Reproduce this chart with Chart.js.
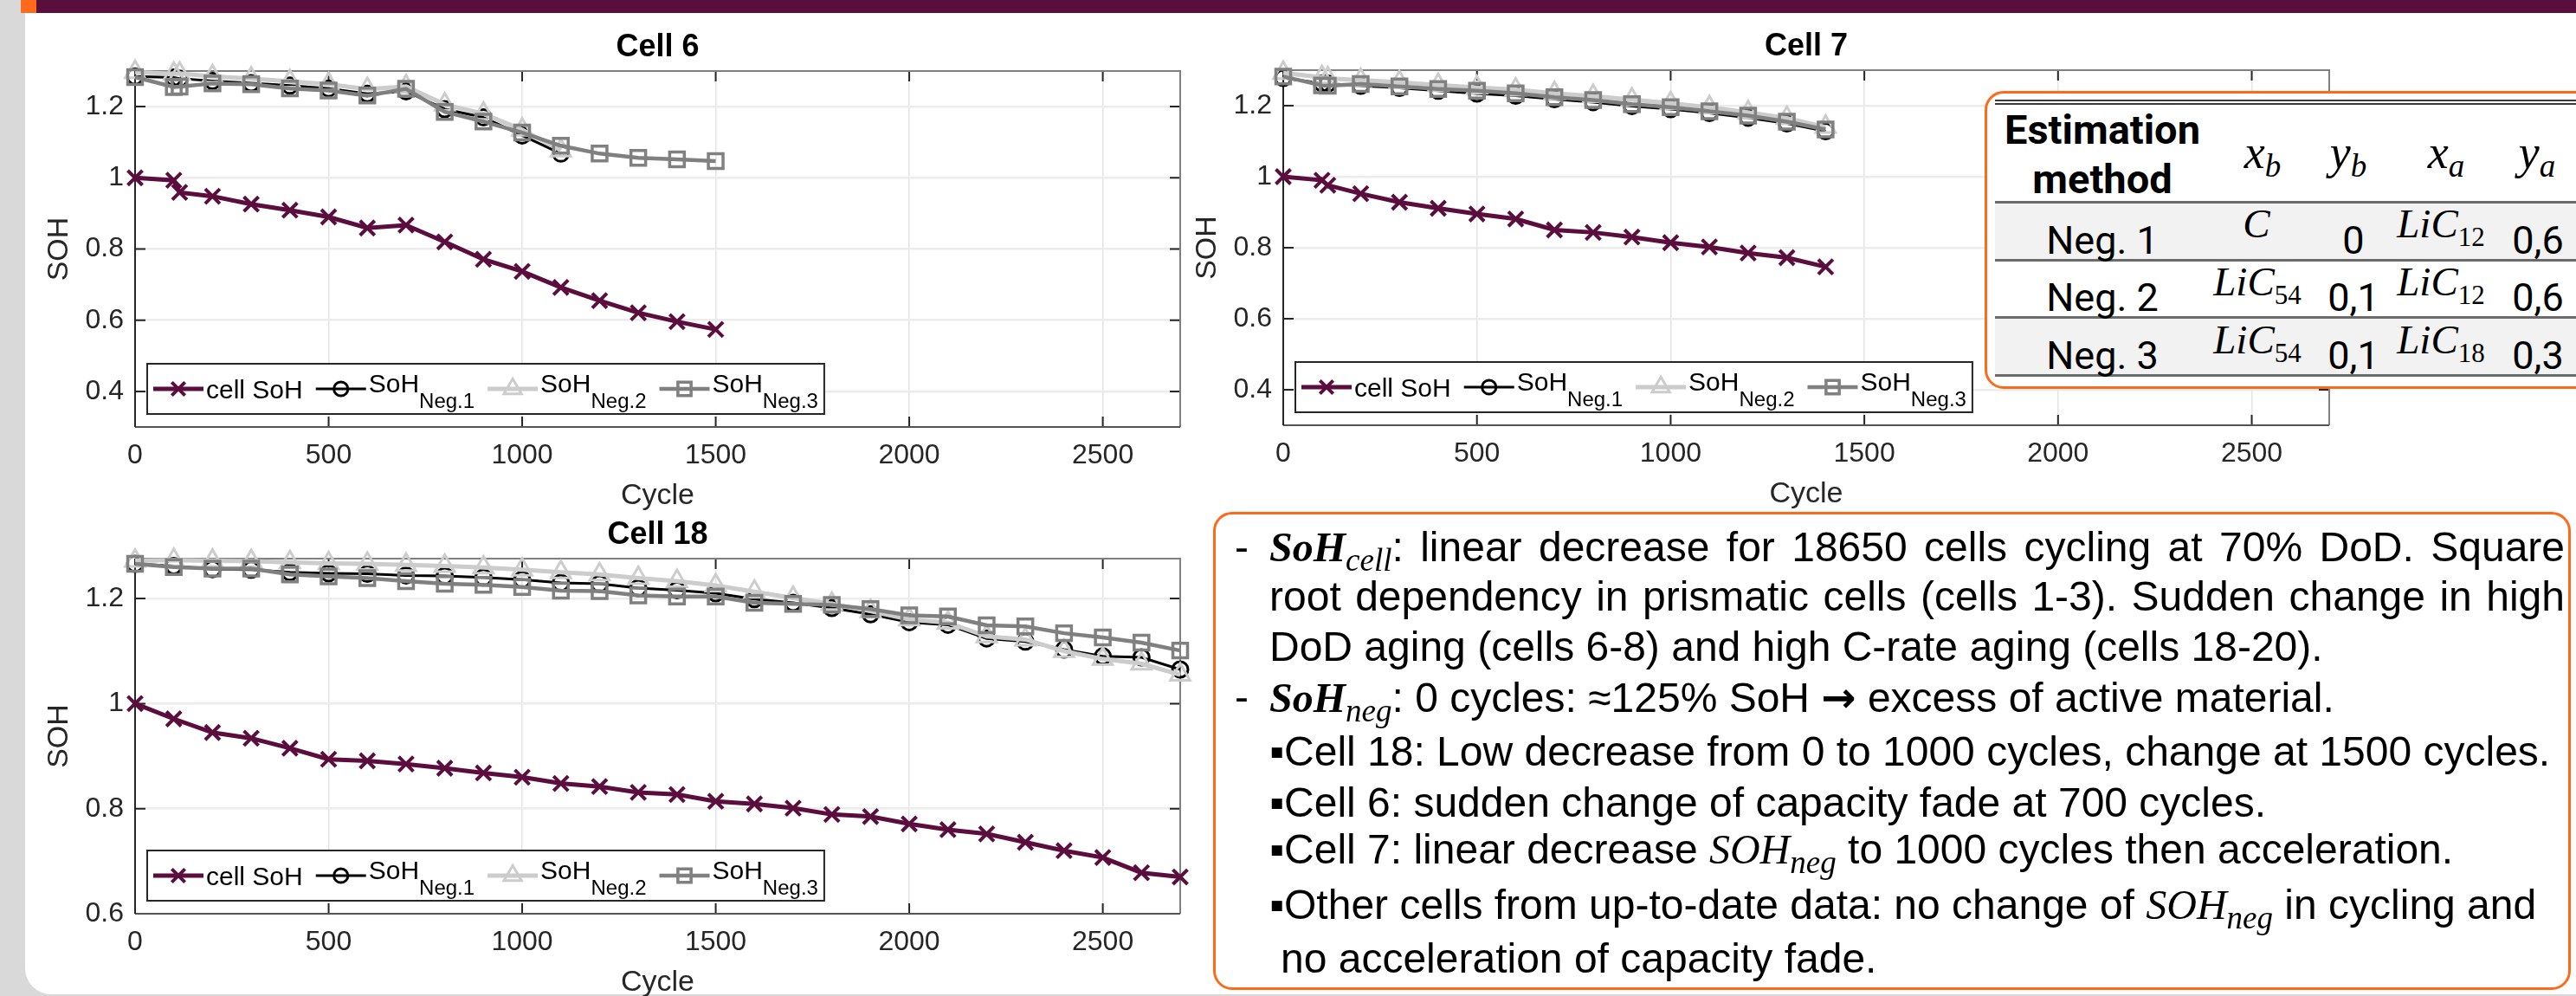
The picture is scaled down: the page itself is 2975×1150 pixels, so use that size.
<!DOCTYPE html>
<html>
<head>
<meta charset="utf-8">
<script src="https://cdn.jsdelivr.net/npm/chart.js"></script>
<style>
html,body{margin:0;padding:0;width:2975px;height:1150px;overflow:hidden;background:#d9d9d9;}
#panel{position:absolute;left:29px;top:0;width:2980px;height:1148px;background:#fff;border-bottom-left-radius:30px;}
#bar{position:absolute;left:24px;top:0;width:2960px;height:15px;background:#5a0e3c;}
#sq{position:absolute;left:24px;top:0;width:18px;height:15px;background:#fe6a1b;}
canvas{position:absolute;}
.box{position:absolute;border:3px solid #fe6a1b;border-radius:22px;background:#fff;box-sizing:border-box;}
.hl{position:absolute;left:2304px;width:700px;}
.t{position:absolute;transform:translate(-50%,-50%);line-height:1;white-space:nowrap;color:#000;}
.r{font-family:Roboto,"Liberation Sans",sans-serif;font-size:45px;}
.rb{font-family:Roboto,"Liberation Sans",sans-serif;font-size:47px;font-weight:bold;}
.m{font-family:"Liberation Serif","DejaVu Serif",serif;font-style:italic;font-size:47px;}
.mh{font-size:54px;}
.m .s{font-size:31px;font-style:normal;position:relative;top:10px;}
.m .si{font-size:37px;position:relative;top:10px;}
.ln{position:absolute;font-family:"Liberation Sans",Arial,sans-serif;font-size:48px;line-height:1;white-space:nowrap;color:#000;}
.just{width:1496px;text-align:justify;text-align-last:justify;}
.mb{font-family:"Liberation Serif","DejaVu Serif",serif;font-style:italic;font-weight:bold;}
.mi{font-family:"Liberation Serif","DejaVu Serif",serif;font-style:italic;}
.sub{font-size:37px;font-weight:normal;position:relative;top:11px;}
.arr{font-family:"DejaVu Sans",sans-serif;font-weight:bold;}
</style>
</head>
<body>
<div id="panel"></div>
<div id="bar"></div>
<div id="sq"></div>
<canvas id="c6"></canvas>
<canvas id="c7"></canvas>
<canvas id="c18"></canvas>

<!-- table box -->
<div class="box" style="left:2292px;top:105px;width:740px;height:344px;"></div>
<div class="hl" style="top:115px;height:2px;background:#3a3a3a;"></div>
<div class="hl" style="top:119px;height:2px;background:#3a3a3a;"></div>
<div class="hl" style="top:233px;height:67px;background:#f2f2f2;"></div>
<div class="hl" style="top:367px;height:66px;background:#f2f2f2;"></div>
<div class="hl" style="top:232px;height:3px;background:#6b6b6b;"></div>
<div class="hl" style="top:299px;height:3px;background:#6b6b6b;"></div>
<div class="hl" style="top:365px;height:3px;background:#6b6b6b;"></div>
<div class="hl" style="top:432px;height:3px;background:#6b6b6b;"></div>
<div class="t rb" style="left:2428px;top:149px;">Estimation</div>
<div class="t rb" style="left:2428px;top:206px;">method</div>
<div class="t m mh" style="left:2613px;top:176px;">x<span class="si">b</span></div>
<div class="t m mh" style="left:2712px;top:176px;">y<span class="si">b</span></div>
<div class="t m mh" style="left:2825px;top:176px;">x<span class="si">a</span></div>
<div class="t m mh" style="left:2930px;top:176px;">y<span class="si">a</span></div>
<div class="t r" style="left:2428px;top:277px;">Neg. 1</div>
<div class="t m" style="left:2606px;top:258px;">C</div>
<div class="t r" style="left:2718px;top:277px;">0</div>
<div class="t m" style="left:2819px;top:258px;">LiC<span class="s">12</span></div>
<div class="t r" style="left:2931px;top:277px;">0,6</div>
<div class="t r" style="left:2428px;top:343px;">Neg. 2</div>
<div class="t m" style="left:2607px;top:325px;">LiC<span class="s">54</span></div>
<div class="t r" style="left:2718px;top:343px;">0,1</div>
<div class="t m" style="left:2819px;top:325px;">LiC<span class="s">12</span></div>
<div class="t r" style="left:2931px;top:343px;">0,6</div>
<div class="t r" style="left:2428px;top:410px;">Neg. 3</div>
<div class="t m" style="left:2607px;top:392px;">LiC<span class="s">54</span></div>
<div class="t r" style="left:2718px;top:410px;">0,1</div>
<div class="t m" style="left:2819px;top:392px;">LiC<span class="s">18</span></div>
<div class="t r" style="left:2931px;top:410px;">0,3</div>

<!-- notes box -->
<div class="box" style="left:1401px;top:591px;width:1568px;height:552px;"></div>
<div class="ln" style="left:1426px;top:608px;">-</div>
<div class="ln just" style="left:1466px;top:608px;"><span class="mb">SoH<span class="sub mi">cell</span></span>: linear decrease for 18650 cells cycling at 70% DoD. Square</div>
<div class="ln just" style="left:1466px;top:665px;">root dependency in prismatic cells (cells 1-3). Sudden change in high</div>
<div class="ln" style="left:1466px;top:723px;">DoD aging (cells 6-8) and high C-rate aging (cells 18-20).</div>
<div class="ln" style="left:1426px;top:781px;">-</div>
<div class="ln" style="left:1466px;top:781px;"><span class="mb">SoH<span class="sub mi">neg</span></span>: 0 cycles: ≈125% SoH <span class="arr">→</span> excess of active material.</div>
<div class="ln" style="left:1466px;top:844px;">▪Cell 18: Low decrease from 0 to 1000 cycles, change at 1500 cycles.</div>
<div class="ln" style="left:1466px;top:903px;">▪Cell 6: sudden change of capacity fade at 700 cycles.</div>
<div class="ln" style="left:1466px;top:957px;">▪Cell 7: linear decrease <span class="mi">SOH<span class="sub">neg</span></span> to 1000 cycles then acceleration.</div>
<div class="ln" style="left:1466px;top:1021px;">▪Other cells from up-to-date data: no change of <span class="mi">SOH<span class="sub">neg</span></span> in cycling and</div>
<div class="ln" style="left:1479px;top:1083px;">no acceleration of capacity fade.</div>

<script>
// ---------------- DATA ----------------
const cell6Cycles = [0,100,115,200,300,400,500,600,700,800,900,1000,1100,1200,1300,1400,1500];
const cell6SoH  = [1.000,0.993,0.959,0.948,0.926,0.909,0.890,0.859,0.867,0.820,0.771,0.737,0.692,0.655,0.621,0.596,0.574];
const cell6Neg1 = [1.285,1.282,1.279,1.272,1.266,1.259,1.251,1.236,1.243,1.193,1.170,1.119,1.068];
const cell6Neg2 = [1.297,1.292,1.293,1.285,1.279,1.271,1.263,1.249,1.257,1.206,1.180,1.135,1.077];
const cell6Neg3 = [1.283,1.255,1.256,1.265,1.263,1.251,1.245,1.231,1.250,1.185,1.158,1.127,1.090,1.068,1.056,1.052,1.047];

const cell7Cycles = [0,100,115,200,300,400,500,600,700,800,900,1000,1100,1200,1300,1400];
const cell7SoH  = [1.000,0.990,0.976,0.952,0.928,0.911,0.895,0.881,0.850,0.843,0.830,0.814,0.802,0.785,0.772,0.746];
const cell7Neg1 = [1.278,1.263,1.262,1.256,1.250,1.242,1.234,1.228,1.218,1.210,1.199,1.190,1.179,1.166,1.150,1.128];
const cell7Neg2 = [1.292,1.280,1.277,1.272,1.266,1.258,1.251,1.245,1.235,1.227,1.217,1.207,1.195,1.181,1.165,1.140];
const cell7Neg3 = [1.282,1.257,1.256,1.261,1.254,1.247,1.242,1.235,1.224,1.216,1.204,1.196,1.184,1.172,1.155,1.133];

const cell18Cycles = [0,100,200,300,400,500,600,700,800,900,1000,1100,1200,1300,1400,1500,1600,1700,1800,1900,2000,2100,2200,2300,2400,2500,2600,2700];
const cell18SoH  = [1.000,0.971,0.945,0.934,0.915,0.894,0.891,0.885,0.877,0.868,0.860,0.848,0.842,0.831,0.827,0.814,0.809,0.801,0.789,0.785,0.771,0.760,0.752,0.736,0.720,0.707,0.678,0.670];
const cell18Neg1 = [1.266,1.262,1.256,1.255,1.250,1.248,1.247,1.244,1.243,1.240,1.236,1.230,1.228,1.220,1.216,1.210,1.199,1.192,1.182,1.170,1.155,1.150,1.124,1.118,1.103,1.090,1.088,1.065];
const cell18Neg2 = [1.272,1.273,1.272,1.271,1.269,1.267,1.266,1.264,1.262,1.259,1.255,1.250,1.246,1.239,1.233,1.225,1.213,1.201,1.190,1.176,1.160,1.154,1.128,1.122,1.100,1.085,1.076,1.055];
const cell18Neg3 = [1.266,1.260,1.257,1.257,1.246,1.242,1.239,1.233,1.228,1.226,1.222,1.215,1.214,1.206,1.204,1.204,1.192,1.190,1.188,1.180,1.168,1.166,1.149,1.147,1.134,1.126,1.116,1.101];

const xTickValues = [0,500,1000,1500,2000,2500];
const xTickLabels = ['0','500','1000','1500','2000','2500'];
const yTickValuesTop = [0.4,0.6,0.8,1,1.2];
const yTickLabelsTop = ['0.4','0.6','0.8','1','1.2'];
const yTickValues18 = [0.6,0.8,1,1.2];
const yTickLabels18 = ['0.6','0.8','1','1.2'];

const legendNames = ['cell SoH','SoH','SoH','SoH'];
const legendSubs  = ['','Neg.1','Neg.2','Neg.3'];

// ---------------- STYLES ----------------
const FONT = '"Liberation Sans", Arial, sans-serif';
const Y_W = 120, X_H = 102;
const seriesStyles = [
  {borderColor:'#5b0e3d', borderWidth:5, pointStyle:'crossRot', pointRadius:12, pointBorderWidth:4, pointBorderColor:'#5b0e3d', order:3},
  {borderColor:'#000000', borderWidth:3, pointStyle:'circle',   pointRadius:9,  pointBorderWidth:3, pointBorderColor:'#000000', order:2},
  {borderColor:'#cccccc', borderWidth:5, pointStyle:'triangle', pointRadius:13, pointBorderWidth:3, pointBorderColor:'#cccccc', order:1},
  {borderColor:'#808080', borderWidth:4.5, pointStyle:'rect',   pointRadius:12, pointBorderWidth:3.5, pointBorderColor:'#808080', order:0}
];

function drawMarker(ctx, style, x, y, r) {
  ctx.beginPath();
  if (style === 'crossRot') {
    const d = r * Math.SQRT1_2;
    ctx.moveTo(x-d,y-d); ctx.lineTo(x+d,y+d); ctx.moveTo(x+d,y-d); ctx.lineTo(x-d,y+d);
  } else if (style === 'circle') {
    ctx.arc(x,y,r,0,Math.PI*2);
  } else if (style === 'triangle') {
    ctx.moveTo(x, y-r); ctx.lineTo(x+0.866*r, y+0.5*r); ctx.lineTo(x-0.866*r, y+0.5*r); ctx.closePath();
  } else {
    const s = r * Math.SQRT1_2; ctx.rect(x-s,y-s,2*s,2*s);
  }
  ctx.stroke();
}

const axisBox = {
  id: 'axisBox',
  beforeDatasetsDraw(chart) {
    const {ctx, chartArea: a, scales: {x, y}} = chart;
    ctx.save();
    ctx.lineWidth = 2;
    ctx.strokeStyle = '#262626';
    ctx.beginPath();
    x.ticks.forEach(t => { const p = x.getPixelForValue(t.value);
      ctx.moveTo(p, a.bottom); ctx.lineTo(p, a.bottom-12); ctx.moveTo(p, a.top); ctx.lineTo(p, a.top+12); });
    y.ticks.forEach(t => { const p = y.getPixelForValue(t.value);
      ctx.moveTo(a.left, p); ctx.lineTo(a.left+12, p); ctx.moveTo(a.right, p); ctx.lineTo(a.right-12, p); });
    ctx.stroke();
    ctx.strokeStyle = '#808080';
    ctx.beginPath(); ctx.moveTo(a.left, a.top); ctx.lineTo(a.right, a.top); ctx.lineTo(a.right, a.bottom); ctx.stroke();
    ctx.strokeStyle = '#555555';
    ctx.beginPath(); ctx.moveTo(a.left, a.bottom); ctx.lineTo(a.right, a.bottom); ctx.stroke();
    ctx.strokeStyle = '#262626';
    ctx.beginPath(); ctx.moveTo(a.left, a.top); ctx.lineTo(a.left, a.bottom); ctx.stroke();
    ctx.restore();
  }
};

function titlePlugin(text) {
  return { id: 'panelTitle', afterDraw(chart) {
    const {ctx, chartArea: a} = chart;
    ctx.save();
    ctx.font = 'bold 36px ' + FONT;
    ctx.fillStyle = '#000';
    ctx.textAlign = 'center'; ctx.textBaseline = 'middle';
    ctx.fillText(text, (a.left + a.right) / 2, a.top - 27);
    ctx.restore();
  }};
}

const matLegend = {
  id: 'matLegend',
  afterDatasetsDraw(chart) {
    const {ctx, chartArea: a} = chart;
    const ds = chart.data.datasets;
    const mainFont = '30px ' + FONT, subFont = '24px ' + FONT;
    ctx.save();
    const widths = legendNames.map((n, i) => {
      ctx.font = mainFont; let w = ctx.measureText(n).width;
      if (legendSubs[i]) { ctx.font = subFont; w += ctx.measureText(legendSubs[i]).width; }
      return w;
    });
    const sample = 58, gapText = 3, gapEntry = 15, padX = 7, bh = 58;
    let total = padX * 2 + gapEntry * (widths.length - 1);
    widths.forEach(w => total += sample + gapText + w);
    const bx = a.left + 14, by = a.bottom - 15 - bh, cy = by + bh / 2;
    ctx.fillStyle = '#fff'; ctx.fillRect(bx, by, total, bh);
    ctx.strokeStyle = '#262626'; ctx.lineWidth = 2; ctx.strokeRect(bx, by, total, bh);
    let x = bx + padX;
    ds.forEach((d, i) => {
      ctx.strokeStyle = d.borderColor; ctx.lineWidth = d.borderWidth;
      ctx.beginPath(); ctx.moveTo(x, cy); ctx.lineTo(x + sample, cy); ctx.stroke();
      ctx.strokeStyle = d.pointBorderColor; ctx.lineWidth = d.pointBorderWidth;
      drawMarker(ctx, d.pointStyle, x + sample / 2, cy, d.pointRadius * 0.9);
      const tx = x + sample + gapText;
      ctx.fillStyle = '#000'; ctx.textAlign = 'left'; ctx.textBaseline = 'middle';
      ctx.font = mainFont;
      if (legendSubs[i]) {
        ctx.fillText(legendNames[i], tx, cy - 4);
        const w = ctx.measureText(legendNames[i]).width;
        ctx.font = subFont; ctx.fillText(legendSubs[i], tx + w, cy + 15);
      } else {
        ctx.fillText(legendNames[i], tx, cy + 3);
      }
      x = tx + widths[i] + gapEntry;
    });
    ctx.restore();
  }
};

function buildChart(id, g, title, cycles, series, yMin, yMax, yTicks, yLabels) {
  const canvas = document.getElementById(id);
  canvas.width = g.cw; canvas.height = g.ch;
  canvas.style.left = g.cl + 'px'; canvas.style.top = g.ct + 'px';
  const pad = { left: g.l - g.cl - Y_W, top: g.t - g.ct, right: g.cl + g.cw - g.r, bottom: g.ct + g.ch - g.b - X_H };
  const datasets = series.map((vals, i) => Object.assign({
    label: legendNames[i] + legendSubs[i],
    data: vals.map((v, k) => ({x: cycles[k], y: v})),
    pointBackgroundColor: 'rgba(0,0,0,0)',
    tension: 0, clip: false, fill: false
  }, seriesStyles[i]));
  return new Chart(canvas, {
    type: 'line',
    data: { datasets },
    options: {
      responsive: false, animation: false, devicePixelRatio: 1, events: [],
      layout: { padding: pad },
      plugins: { legend: { display: false }, title: { display: false }, tooltip: { enabled: false } },
      scales: {
        x: {
          type: 'linear', min: 0, max: 2700,
          afterBuildTicks: s => { s.ticks = xTickValues.map(v => ({value: v})); },
          afterFit: s => { s.height = X_H; },
          ticks: { autoSkip: false, maxRotation: 0, padding: 14, color: '#262626',
                   font: { family: FONT, size: 32 }, callback: (v, i) => xTickLabels[i] },
          grid: { color: '#e4e4e4', lineWidth: 1.5, drawTicks: false },
          border: { display: false },
          title: { display: true, text: 'Cycle', color: '#262626',
                   font: { family: FONT, size: 34, lineHeight: 1.2 }, padding: { top: 0, bottom: 1.6 } }
        },
        y: {
          type: 'linear', min: yMin, max: yMax,
          afterBuildTicks: s => { s.ticks = yTicks.map(v => ({value: v})); },
          afterFit: s => { s.width = Y_W; },
          ticks: { autoSkip: false, padding: 13, color: '#262626',
                   font: { family: FONT, size: 32 }, callback: (v, i) => yLabels[i] },
          grid: { color: '#ececec', lineWidth: 2.5, drawTicks: false },
          border: { display: false },
          title: { display: true, text: 'SOH', color: '#262626',
                   font: { family: FONT, size: 34, lineHeight: 1.2 }, padding: { top: 12.6, bottom: 0 } }
        }
      }
    },
    plugins: [axisBox, matLegend, titlePlugin(title)]
  });
}

buildChart('c6',  {cl:30,   ct:15,  cw:1393, ch:600, l:156,  t:82,  r:1363, b:493},
  'Cell 6', cell6Cycles, [cell6SoH, cell6Neg1, cell6Neg2, cell6Neg3], 0.3, 1.3, yTickValuesTop, yTickLabelsTop);
buildChart('c7',  {cl:1356, ct:15,  cw:1394, ch:600, l:1482, t:81,  r:2690, b:491},
  'Cell 7', cell7Cycles, [cell7SoH, cell7Neg1, cell7Neg2, cell7Neg3], 0.3, 1.3, yTickValuesTop, yTickLabelsTop);
buildChart('c18', {cl:30,   ct:575, cw:1393, ch:605, l:156,  t:645, r:1363, b:1055},
  'Cell 18', cell18Cycles, [cell18SoH, cell18Neg1, cell18Neg2, cell18Neg3], 0.6, 1.276, yTickValues18, yTickLabels18);
</script>
</body>
</html>
